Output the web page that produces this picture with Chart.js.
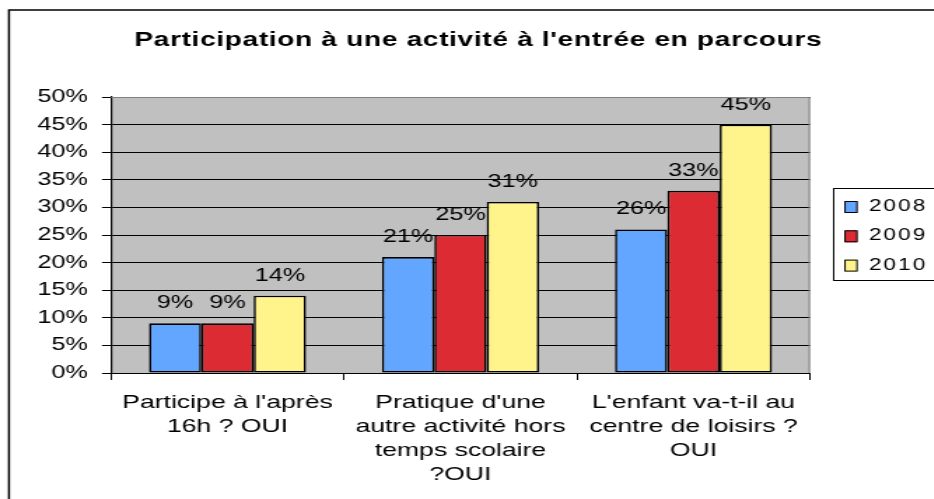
<!DOCTYPE html>
<html><head><meta charset="utf-8">
<script src="https://cdn.jsdelivr.net/npm/chart.js@4"></script>
<style>
html,body{margin:0;padding:0;background:#fff;overflow:hidden;width:934px;height:499px}
#wrap{width:667px;height:499px;transform:scaleX(1.4);transform-origin:0 0}
canvas{display:block}
</style>
</head><body><div id="wrap"><canvas id="c" width="667" height="499"></canvas></div>
<script>
const titleText = "Participation à une activité à l'entrée en parcours";
const categories = [
  ["Participe à l'après", "16h ? OUI"],
  ["Pratique d'une", "autre activité hors", "temps scolaire", "?OUI"],
  ["L'enfant va-t-il au", "centre de loisirs ?", "OUI"]
];
const seriesNames = ["2008", "2009", "2010"];
const values2008 = [9, 21, 26];
const values2009 = [9, 25, 33];
const values2010 = [14, 31, 45];
const yMin = 0, yMax = 50, yStep = 5;

const FONT = "'Liberation Sans', Arial, sans-serif";
const colors = ["#63A6FF", "#DD2B33", "#FFF48C"];
const SX = 1.4; // horizontal stretch applied to the whole drawing

const decor = {
  id: 'decor',
  beforeDraw(c) {
    const ctx = c.ctx, a = c.chartArea;
    ctx.save();
    ctx.fillStyle = '#fff';
    ctx.fillRect(0, 0, c.width, c.height);
    ctx.fillStyle = '#C0C0C0';
    ctx.fillRect(a.left, a.top, a.right - a.left, a.bottom - a.top);
    ctx.restore();
  },
  afterDatasetsDraw(c) {
    const ctx = c.ctx;
    ctx.save();
    ctx.font = '18px ' + FONT;
    ctx.fillStyle = '#000';
    ctx.textAlign = 'center';
    ctx.textBaseline = 'alphabetic';
    c.data.datasets.forEach((ds, i) => {
      c.getDatasetMeta(i).data.forEach((bar, j) => {
        ctx.fillText(ds.data[j] + '%', bar.x, bar.y - 15);
      });
    });
    ctx.restore();
  },
  afterDraw(c) {
    const ctx = c.ctx, a = c.chartArea;
    ctx.save();
    ctx.strokeStyle = '#808080';
    ctx.lineWidth = 1;
    ctx.beginPath();
    ctx.moveTo(a.left, a.top + 0.5); ctx.lineTo(a.right - 0.5, a.top + 0.5);
    ctx.lineTo(a.right - 0.5, a.bottom);
    ctx.stroke();
    // title
    ctx.font = 'bold 20px ' + FONT;
    ctx.letterSpacing = '0.5px';
    ctx.fillStyle = '#000';
    ctx.textAlign = 'center';
    ctx.textBaseline = 'alphabetic';
    ctx.fillText(titleText, 478 / SX + 0.25, 46);
    // legend
    ctx.strokeStyle = '#000';
    ctx.lineWidth = 1;
    ctx.strokeRect(Math.round(833 / SX) + 0.5, 188.5, 200, 92);
    ctx.font = '16px ' + FONT;
    ctx.letterSpacing = '1.5px';
    ctx.textAlign = 'left';
    c.data.datasets.forEach((ds, i) => {
      const y = 201 + i * 29.3;
      const x = 845 / SX;
      ctx.fillStyle = ds.backgroundColor;
      ctx.fillRect(x, y, 12 / SX, 12);
      ctx.strokeStyle = '#000';
      ctx.strokeRect(x, y + 0.5, 12 / SX, 11);
      ctx.fillStyle = '#000';
      ctx.fillText(ds.label, 869 / SX, y + 10);
    });
    ctx.letterSpacing = '0px';
    // outer border
    ctx.strokeStyle = '#000';
    ctx.lineWidth = 1.5;
    ctx.strokeRect(9 / SX, 10, 1000, 1000);
    ctx.restore();
  }
};

Chart.defaults.font.family = FONT;
Chart.defaults.font.size = 19;
Chart.defaults.color = '#000';

new Chart(document.getElementById('c'), {
  type: 'bar',
  data: {
    labels: categories,
    datasets: [
      { label: seriesNames[0], data: values2008, backgroundColor: colors[0] },
      { label: seriesNames[1], data: values2009, backgroundColor: colors[1] },
      { label: seriesNames[2], data: values2010, backgroundColor: colors[2] }
    ].map(d => Object.assign(d, { borderColor: '#000', borderWidth: 1.6, borderSkipped: false,
      categoryPercentage: 0.674, barPercentage: 1.0 }))
  },
  options: {
    responsive: false,
    animation: false,
    devicePixelRatio: 1,
    layout: { padding: { left: 0, top: 97, right: 667 - 810 / SX, bottom: 0 } },
    plugins: { legend: { display: false }, title: { display: false }, tooltip: { enabled: false } },
    scales: {
      x: {
        afterFit: s => { s.height = 126; },
        grid: { drawOnChartArea: false, color: '#000', tickLength: 7, offset: true },
        border: { color: '#000', width: 1 },
        ticks: { padding: 11, maxRotation: 0, autoSkip: false, font: { size: 19, lineHeight: 1.26 } }
      },
      y: {
        min: yMin, max: yMax,
        afterFit: s => { s.width = 111 / SX; },
        grid: { color: '#000', tickLength: 9 / SX },
        border: { color: '#000', width: 1.2 },
        ticks: { stepSize: yStep, padding: 10, callback: v => v + '%', font: { size: 18 } }
      }
    }
  },
  plugins: [decor]
});
</script>
</body></html>
